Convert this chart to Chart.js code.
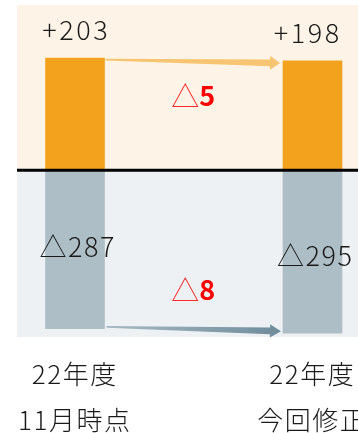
<!DOCTYPE html>
<html><head><meta charset="utf-8">
<script src="https://cdn.jsdelivr.net/npm/chart.js@4/dist/chart.umd.min.js"></script>
<style>html,body{margin:0;padding:0;background:#fff;}#wrap{width:358px;height:433px;}</style>
</head><body><div id="wrap"><canvas id="c" width="358" height="433"></canvas></div>
<script>
const categories = [['22年度', '11月時点'], ['22年度', '今回修正']];
const positives = [203, 198];
const negatives = [-287, -295];
const positiveLabels = ['+203', '+198'];
const negativeLabels = ['△287', '△295'];
const deltaLabels = [['△', '5'], ['△', '8']];

const FONT = "'Noto Sans CJK JP', 'Noto Sans', sans-serif";

function arrow(ctx, ax, ay, bx, by, wTail, wBody, wHead, headLen, fill) {
  const dx = bx - ax, dy = by - ay;
  const len = Math.hypot(dx, dy);
  const ux = dx / len, uy = dy / len;
  const nx = -uy, ny = ux;
  const hx = bx - ux * headLen, hy = by - uy * headLen;
  ctx.beginPath();
  ctx.moveTo(ax + nx * wTail / 2, ay + ny * wTail / 2);
  ctx.lineTo(hx + nx * wBody / 2, hy + ny * wBody / 2);
  ctx.lineTo(hx + nx * wHead / 2, hy + ny * wHead / 2);
  ctx.lineTo(bx, by);
  ctx.lineTo(hx - nx * wHead / 2, hy - ny * wHead / 2);
  ctx.lineTo(hx - nx * wBody / 2, hy - ny * wBody / 2);
  ctx.lineTo(ax - nx * wTail / 2, ay - ny * wTail / 2);
  ctx.closePath();
  ctx.fillStyle = fill;
  ctx.fill();
}

function spacedText(ctx, text, x, y, spacing) {
  ctx.letterSpacing = spacing + 'px';
  ctx.textAlign = 'center';
  ctx.fillText(text, x + spacing / 2, y);
  ctx.letterSpacing = '0px';
}

const decor = {
  id: 'decor',
  beforeDraw(chart) {
    const { ctx, chartArea, scales } = chart;
    const y0 = scales.y.getPixelForValue(0);
    const left = 17;
    ctx.save();
    ctx.fillStyle = '#fff';
    ctx.fillRect(0, 0, chart.width, chart.height);
    ctx.fillStyle = '#FDF4E7';
    ctx.fillRect(left, chartArea.top, chart.width - left, y0 - chartArea.top);
    ctx.fillStyle = '#EDF1F4';
    ctx.fillRect(left, y0, chart.width - left, chartArea.bottom - y0);
    ctx.restore();
  },
  afterDatasetsDraw(chart) {
    const { ctx, scales } = chart;
    const y0 = scales.y.getPixelForValue(0);
    const pos = chart.getDatasetMeta(0).data;
    const neg = chart.getDatasetMeta(1).data;
    ctx.save();
    ctx.strokeStyle = '#000';
    ctx.lineWidth = 3;
    ctx.beginPath();
    ctx.moveTo(17, y0);
    ctx.lineTo(chart.width, y0);
    ctx.stroke();

    const p0 = pos[0], p1 = pos[1], n0 = neg[0], n1 = neg[1];
    const hw0 = p0.width / 2, hw1 = p1.width / 2;
    arrow(ctx, p0.x + hw0 + 1, p0.y + 1.5, p1.x - hw1 - 3, p1.y + 2.3, 1.8, 6.7, 14.3, 10, '#F7C571');
    const g = ctx.createLinearGradient(n0.x + hw0, 0, n1.x - hw1, 0);
    g.addColorStop(0, '#A7BAC4');
    g.addColorStop(1, '#6F8C9B');
    arrow(ctx, n0.x + hw0 + 2, n0.y - 1.9, n1.x - hw1 - 2, n1.y - 2, 1.8, 6.7, 13.4, 11, g);

    ctx.fillStyle = '#1a1a1a';
    ctx.textBaseline = 'middle';
    ctx.font = '300 27px ' + FONT;
    pos.forEach((b, i) => spacedText(ctx, positiveLabels[i], b.x - (i === 1 ? 6 : 0), b.y - 28, 2.5));
    neg.forEach((b, i) => spacedText(ctx, negativeLabels[i], b.x + 2, (b.y + b.base) / 2 + (i === 1 ? 4 : -3), 1.5));

    const midX = (p0.x + p1.x) / 2 - 0.5;
    const ys = [y0 - 74, y0 + 120];
    deltaLabels.forEach((parts, i) => {
      ctx.font = '300 28px ' + FONT;
      const w1 = ctx.measureText(parts[0]).width;
      ctx.font = 'bold 27px ' + FONT;
      const w2 = ctx.measureText(parts[1]).width;
      const start = midX - (w1 + w2) / 2;
      ctx.textAlign = 'left';
      ctx.fillStyle = '#FF2A2A';
      ctx.font = '300 28px ' + FONT;
      ctx.fillText(parts[0], start, ys[i]);
      ctx.fillStyle = '#FF0000';
      ctx.font = 'bold 27px ' + FONT;
      ctx.fillText(parts[1], start + w1, ys[i]);
    });

    ctx.fillStyle = '#1a1a1a';
    ctx.font = '300 26px ' + FONT;
    categories.forEach((lines, i) => {
      const x = scales.x.getPixelForValue(i);
      lines.forEach((t, j) => spacedText(ctx, t, x - 1, 374 + j * 46, 1.5));
    });
    ctx.restore();
  }
};

new Chart(document.getElementById('c'), {
  type: 'bar',
  data: {
    labels: categories.map(c => c.join(' ')),
    datasets: [
      { data: positives, backgroundColor: '#F3A21E', stack: 's', clip: false, barThickness: 59 },
      { data: negatives, backgroundColor: '#AEBEC6', stack: 's', clip: false, barThickness: 59 }
    ]
  },
  options: {
    responsive: false,
    animation: false,
    devicePixelRatio: 1,
    layout: { padding: { left: 75, right: 45.5, top: 5, bottom: 96 } },
    plugins: { legend: { display: false }, tooltip: { enabled: false } },
    scales: {
      x: { display: false, offset: false, stacked: true },
      y: { display: false, stacked: true, min: -302, max: 299 }
    }
  },
  plugins: [decor]
});
</script>
</body></html>
